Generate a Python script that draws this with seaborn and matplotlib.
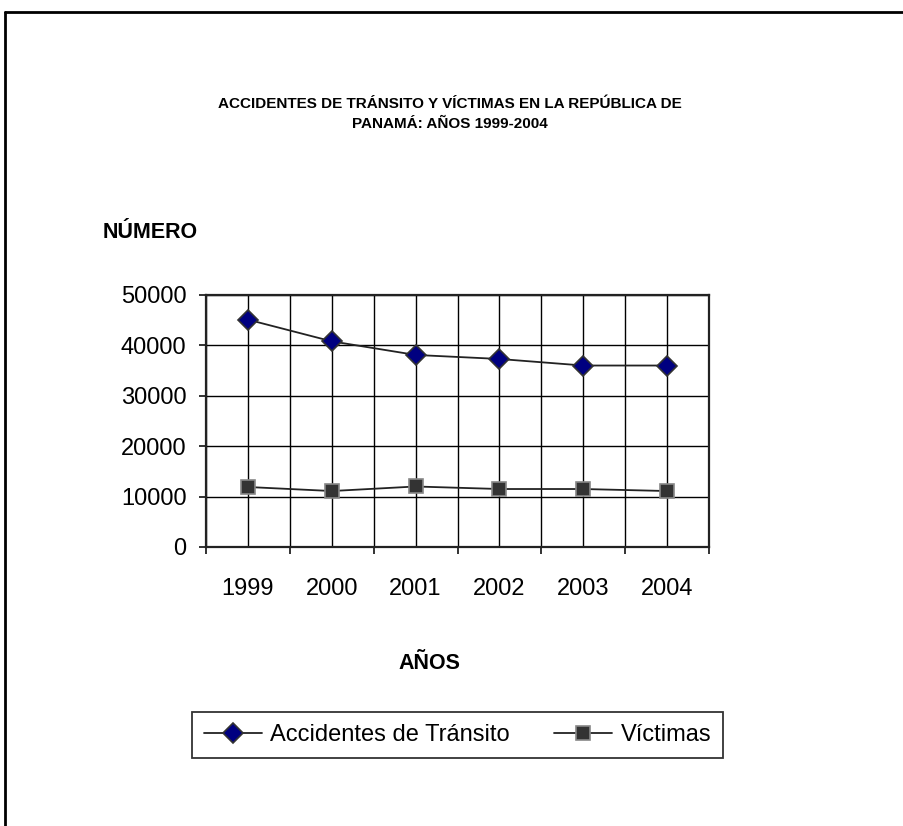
import matplotlib
matplotlib.use("Agg")
import matplotlib.pyplot as plt
import seaborn as sns
import pandas as pd
from matplotlib.lines import Line2D

# data
years = [1999, 2000, 2001, 2002, 2003, 2004]
accidentes = [45100, 40800, 38100, 37300, 36000, 36000]
victimas = [11900, 11100, 12000, 11500, 11500, 11100]
y_ticks = [0, 10000, 20000, 30000, 40000, 50000]

df = pd.DataFrame({"Año": years, "Accidentes": accidentes, "Victimas": victimas})

sns.set_style("white")
plt.rcParams["font.family"] = ["Liberation Sans", "DejaVu Sans"]
plt.rcParams["text.color"] = "black"
plt.rcParams["xtick.color"] = "black"
plt.rcParams["ytick.color"] = "black"

fig = plt.figure(figsize=(9.04, 8.26), dpi=100)
ax = fig.add_axes([0.2279, 0.3378, 0.5564, 0.3051])

sns.lineplot(data=df, x="Año", y="Accidentes", ax=ax, color="#222222", linewidth=1.3,
             marker="D", markersize=10.5, markerfacecolor="#000080",
             markeredgecolor="#333333", markeredgewidth=1.2,
             label="Accidentes de Tránsito")
sns.lineplot(data=df, x="Año", y="Victimas", ax=ax, color="#222222", linewidth=1.3,
             marker="s", markersize=10.5, markerfacecolor="#333333",
             markeredgecolor="#888888", markeredgewidth=1.2,
             label="Víctimas")

ax.set_xlim(1998.5, 2004.5)
ax.set_ylim(0, 50000)
ax.set_yticks(y_ticks)
ax.set_yticklabels([str(v) for v in y_ticks])
ax.set_xticks(years)
ax.set_xticklabels([str(y) for y in years])
ax.set_xticks([y - 0.5 for y in years] + [2004.5], minor=True)

ax.grid(True, which="both", axis="x", color="black", linewidth=1)
ax.grid(True, which="major", axis="y", color="black", linewidth=1)
ax.set_axisbelow(True)

for s in ax.spines.values():
    s.set_color("#222222")
    s.set_linewidth(1.6)

ax.tick_params(axis="x", which="major", length=0, pad=22, labelsize=17)
ax.tick_params(axis="x", which="minor", length=5, width=1.3, direction="out", color="#222222")
ax.tick_params(axis="y", length=5, width=1.3, direction="out", pad=9, labelsize=17, color="#222222")
ax.tick_params(bottom=True, left=True, which="both")

ax.set_xlabel("")
ax.set_ylabel("")

fig.text(0.498, 0.862, "ACCIDENTES DE TRÁNSITO Y VÍCTIMAS EN LA REPÚBLICA DE\nPANAMÁ: AÑOS 1999-2004",
         ha="center", va="center", fontsize=11, fontweight="bold", linespacing=1.55)
fig.text(0.114, 0.719, "NÚMERO", ha="left", va="center", fontsize=15.5, fontweight="bold")
fig.text(0.475, 0.197, "AÑOS", ha="center", va="center", fontsize=15.5, fontweight="bold")

leg = ax.legend(loc="center", bbox_to_anchor=(0.506, 0.110), bbox_transform=fig.transFigure,
                ncol=2, fontsize=17, frameon=True, fancybox=False, handlelength=2.45,
                columnspacing=1.9, handletextpad=0.35, borderpad=0.5, borderaxespad=0)
leg.get_frame().set_edgecolor("black")
leg.get_frame().set_linewidth(1.3)

# outer frame of the chart area (top and left edges)
fig.add_artist(Line2D([0.005, 1.0], [0.985, 0.985], transform=fig.transFigure, color="black", linewidth=2))
fig.add_artist(Line2D([0.0055, 0.0055], [0.0, 0.985], transform=fig.transFigure, color="black", linewidth=2))

fig.savefig("out.png", dpi=100)
